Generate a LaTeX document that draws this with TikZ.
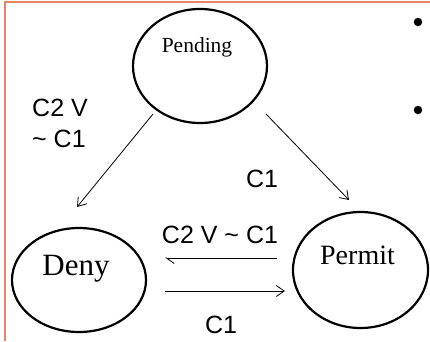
\documentclass[tikz,border=0pt]{standalone}
\usepackage{fontspec}
\setmainfont{Liberation Serif}
\setsansfont{Liberation Sans}
\usetikzlibrary{arrows.meta,shapes.geometric}
\definecolor{frameorange}{HTML}{E8846A}
\tikzset{
  statebox/.style={draw=black, line width=2.2pt, ellipse, inner sep=0pt},
  stname/.style={font=\fontsize{#1}{#1}\selectfont, inner sep=0pt, anchor=base},
  lbl/.style={font=\sffamily\fontsize{25}{31}\selectfont, inner sep=0pt, anchor=base},
  arr/.style={draw=black, line width=0.8pt, -{Straight Barb[length=8pt,width=11pt,line width=0.8pt]}},
  harr/.style={draw=black, line width=0.8pt, -{Straight Barb[harpoon,length=8pt,width=11pt,line width=0.8pt]}},
  bulletdot/.style={circle, fill=black, inner sep=0pt, minimum size=8.5pt},
}
\begin{document}
\begin{tikzpicture}[x=1pt,y=-1pt]
\useasboundingbox (0,0) rectangle (430,341);
% frame
\draw[frameorange, line width=1.5pt] (430,2) -- (5,2) -- (5,341);
% states
\node[statebox, minimum width=134pt, minimum height=114pt] (pend) at (200,66) {};
\node[statebox, minimum width=134pt, minimum height=104pt] (deny) at (79,280) {};
\node[statebox, minimum width=135pt, minimum height=116pt] (perm) at (360.5,270) {};
\node[stname=21.5] (tpend) at (197,52) {Pending};
\node[stname=31] (tdeny) at (76,275) {Deny};
\node[stname=28] (tperm) at (357.5,264) {Permit};
% connector end points
\coordinate (p1) at (153,114);
\coordinate (d1) at (77,207);
\coordinate (p2) at (266,114);
\coordinate (m1) at (349,200);
\coordinate (m2) at (277,258);
\coordinate (d2) at (165,258);
\coordinate (d3) at (165,291);
\coordinate (m3) at (285,291);
\draw[arr] (p1) -- (d1);
\draw[arr] (p2) -- (m1);
\draw[harr] (m2) -- (d2);
\draw[arr] (d3) -- (m3);
% labels
\node[lbl, anchor=base west, align=left] (l1) at (32,147) {C2 V\\\textasciitilde{} C1};
\node[lbl] (l2) at (262,187) {C1};
\node[lbl] (l3) at (220,243) {C2 V \textasciitilde{} C1};
\node[lbl] (l4) at (221,333) {C1};
% bullets
\node[bulletdot] (b1) at (418,22) {};
\node[bulletdot] (b2) at (418,110) {};
\end{tikzpicture}
\end{document}
